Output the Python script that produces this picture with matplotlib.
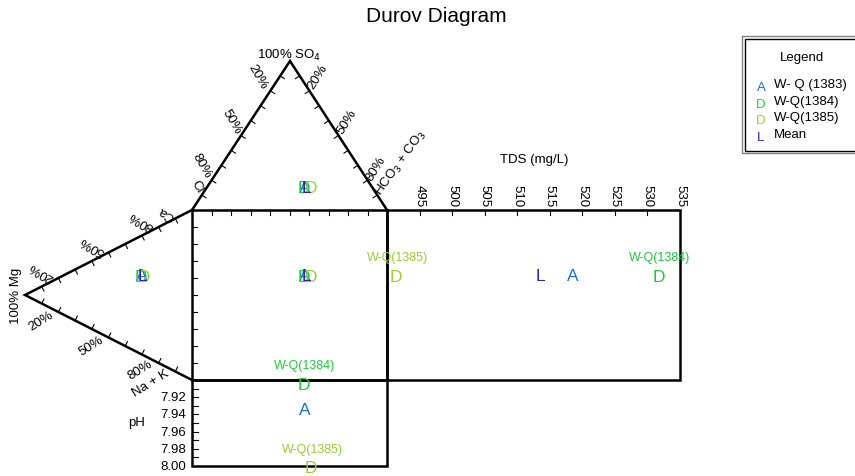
import numpy as np
import matplotlib.pyplot as plt
from matplotlib.patches import Rectangle

plt.rcParams['font.family'] = ['Liberation Sans', 'DejaVu Sans']

# samples
names = ['W- Q (1383)', 'W-Q(1384)', 'W-Q(1385)', 'Mean']
symbols = ['A', 'D', 'D', 'L']
colors = ['#1f6fd6', '#1ec83c', '#9acd32', '#2a1fc0']
show_label = [False, True, True, False]

# cations (%)
ca = [46.1, 45.9, 46.8, 46.3]
mg = [30.2, 30.5, 28.7, 29.8]
na_k = [23.7, 23.6, 24.5, 23.9]

# anions (%)
so4 = [15.4, 15.4, 15.4, 15.4]
hco3 = [50.2, 49.7, 53.3, 50.9]
cl = [34.4, 34.9, 31.3, 33.7]

tds = [518.5, 531.7, 491.4, 513.5]
ph = [7.934, 7.905, 8.002, np.nan]   # mean pH not drawn

tds_ticks = [495, 500, 505, 510, 515, 520, 525, 530, 535]
ph_ticks = [7.92, 7.94, 7.96, 7.98, 8.00]

# layout (figure pixels)
SQ_X0, SQ_X1, SQ_Y0, SQ_Y1 = 192, 387, 211, 381
T_SO4 = np.array([290, 62])
T_CL = np.array([SQ_X0, SQ_Y0])
T_HC = np.array([SQ_X1, SQ_Y0])
L_MG = np.array([25, 296])
L_CA = np.array([SQ_X0, SQ_Y0])
L_NA = np.array([SQ_X0, SQ_Y1])
TDS_X1 = 680
TDS_MIN, TDS_MAX = 490, 535
PH_Y1 = 467
PH_MIN, PH_MAX = 7.90, 8.00


def tern(a, b, c, pa, pb, pc):
    s = a + b + c
    return (a * pa + b * pb + c * pc) / s


def tds_x(v):
    return SQ_X1 + (v - TDS_MIN) / (TDS_MAX - TDS_MIN) * (TDS_X1 - SQ_X1)


def ph_y(v):
    return SQ_Y1 + (v - PH_MIN) / (PH_MAX - PH_MIN) * (PH_Y1 - SQ_Y1)


def edge_ticks(ax, p0, p1, inside, n=10, length=5):
    d = p1 - p0
    nrm = np.array([-d[1], d[0]]) / np.hypot(*d)
    mid = (p0 + p1) / 2
    if np.dot(inside - mid, nrm) < 0:
        nrm = -nrm
    for k in range(1, n):
        q = p0 + d * k / n
        ax.plot([q[0], q[0] + nrm[0] * length], [q[1], q[1] + nrm[1] * length],
                color='black', lw=0.8)


fig = plt.figure(figsize=(8.55, 4.77), dpi=100)
ax = fig.add_axes([0, 0, 1, 1])
ax.set_xlim(0, 855)
ax.set_ylim(477, 0)
ax.axis('off')

lw = 1.8
# triangles
tri = np.array([T_CL, T_SO4, T_HC])
ax.plot(tri[:, 0], tri[:, 1], color='black', lw=lw, solid_joinstyle='miter')
tri = np.array([L_CA, L_MG, L_NA])
ax.plot(tri[:, 0], tri[:, 1], color='black', lw=lw, solid_joinstyle='miter')
c_top = (T_SO4 + T_CL + T_HC) / 3
c_left = (L_MG + L_CA + L_NA) / 3
edge_ticks(ax, T_SO4, T_CL, c_top)
edge_ticks(ax, T_SO4, T_HC, c_top)
edge_ticks(ax, L_MG, L_CA, c_left)
edge_ticks(ax, L_MG, L_NA, c_left)

# square, TDS and pH boxes
ax.add_patch(Rectangle((SQ_X0, SQ_Y0), SQ_X1 - SQ_X0, SQ_Y1 - SQ_Y0, fill=False, lw=lw, ec='black'))
ax.add_patch(Rectangle((SQ_X1, SQ_Y0), TDS_X1 - SQ_X1, SQ_Y1 - SQ_Y0, fill=False, lw=lw, ec='black'))
ax.add_patch(Rectangle((SQ_X0, SQ_Y1), SQ_X1 - SQ_X0, PH_Y1 - SQ_Y1, fill=False, lw=lw, ec='black'))
for k in range(1, 10):
    x = SQ_X0 + (SQ_X1 - SQ_X0) * k / 10
    ax.plot([x, x], [SQ_Y0, SQ_Y0 + 5], color='black', lw=0.8)
    y = SQ_Y0 + (SQ_Y1 - SQ_Y0) * k / 10
    ax.plot([SQ_X0, SQ_X0 + 5], [y, y], color='black', lw=0.8)

fs = 9.5
# TDS axis
for t in tds_ticks:
    x = tds_x(t)
    if t < TDS_MAX:
        ax.plot([x, x], [SQ_Y0, SQ_Y0 + 5], color='black', lw=0.8)
    ax.text(x, 207, str(t), rotation=270, ha='center', va='bottom', fontsize=fs)
ax.text(534, 160, 'TDS (mg/L)', ha='center', va='center', fontsize=fs)

# pH axis
for k in range(1, 10):
    y = ph_y(PH_MIN + k * 0.01)
    ax.plot([SQ_X0, SQ_X0 + 6], [y, y], color='black', lw=0.8)
for t in ph_ticks:
    ax.text(186, ph_y(t), '%.2f' % t, ha='right', va='center', fontsize=fs)
ax.text(137, 423, 'pH', ha='center', va='center', fontsize=fs)

# triangle labels
ax.text(289, 55, '100% SO$_4$', ha='center', va='center', fontsize=fs)
for txt, (x, y) in zip(['20%', '50%', '80%', 'Cl'], [(258, 77), (232, 122), (202, 166), (197, 187)]):
    ax.text(x, y, txt, rotation=-60, ha='center', va='center', fontsize=fs)
for txt, (x, y) in zip(['20%', '50%', '80%'], [(318, 77), (347, 122), (376, 169)]):
    ax.text(x, y, txt, rotation=58, ha='center', va='center', fontsize=fs)
ax.text(401, 163, 'HCO$_3$ + CO$_3$', rotation=54, ha='center', va='center', fontsize=fs)
ax.text(16, 296, '100% Mg', rotation=90, ha='center', va='center', fontsize=fs)
for txt, (x, y) in zip(['20%', '50%', '80%', 'Ca'], [(41, 272), (92, 246), (141, 221), (167, 213)]):
    ax.text(x, y, txt, rotation=150, ha='center', va='center', fontsize=fs)
for txt, (x, y) in zip(['20%', '50%', '80%', 'Na + K'], [(41, 321), (91, 346), (140, 370), (151, 384)]):
    ax.text(x, y, txt, rotation=32, ha='center', va='center', fontsize=fs)

# sample points
for i in range(len(names)):
    px, py_top = tern(so4[i], cl[i], hco3[i], T_SO4, T_CL, T_HC)
    lx, ly = tern(mg[i], ca[i], na_k[i], L_MG, L_CA, L_NA)
    pts = [(px, py_top), (lx, ly), (px, ly), (tds_x(tds[i]), ly)]
    if not np.isnan(ph[i]):
        pts.append((px, ph_y(ph[i])))
    for j, (x, y) in enumerate(pts):
        ax.text(x, y, symbols[i], color=colors[i], ha='center', va='center', fontsize=12.5)
        if show_label[i] and j >= 3:
            ax.text(x + 1, y - 19, names[i], color=colors[i], ha='center', va='center', fontsize=9)

# legend
ax.add_patch(Rectangle((742, 37), 130, 117, fill=False, ec='#808080', lw=1, clip_on=False))
ax.add_patch(Rectangle((744.5, 39.5), 130, 112, fill=False, ec='black', lw=1, clip_on=False))
ax.text(802, 58, 'Legend', ha='center', va='center', fontsize=fs)
for i in range(len(names)):
    y = 85 + i * 16.7
    ax.text(761, y + 3, symbols[i], color=colors[i], ha='center', va='center', fontsize=9.5)
    ax.text(774, y, names[i], ha='left', va='center', fontsize=fs)

ax.text(436, 17, 'Durov Diagram', ha='center', va='center', fontsize=15)

fig.savefig('out.png', dpi=100)
